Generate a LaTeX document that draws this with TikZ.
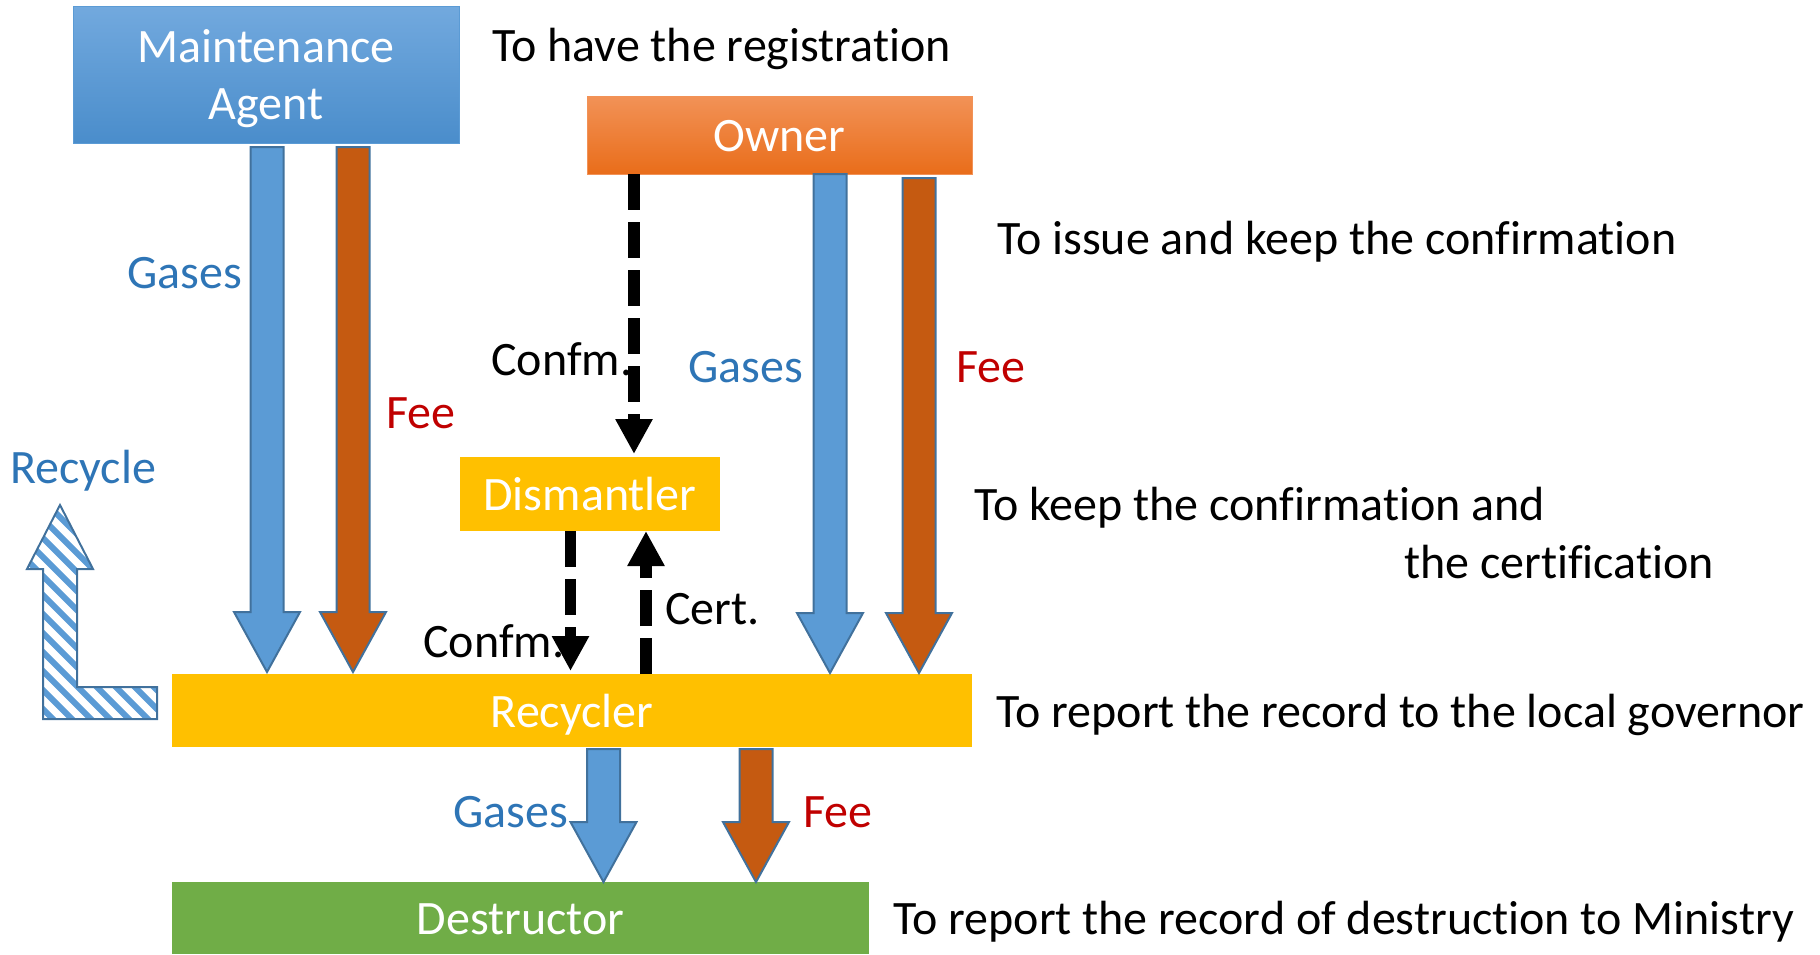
\documentclass[tikz,border=0pt]{standalone}
\usepackage{fontspec}
\setmainfont[RawFeature={-liga;-clig;-calt;-dlig}]{Carlito}
\usetikzlibrary{arrows.meta,calc}
\definecolor{gasblue}{HTML}{5B9BD5}
\definecolor{edgeblue}{HTML}{41719C}
\definecolor{feebrown}{HTML}{C55A11}
\definecolor{gastext}{HTML}{2E75B6}
\definecolor{feetext}{HTML}{C00000}
\definecolor{boxyellow}{HTML}{FFC000}
\definecolor{boxgreen}{HTML}{70AD47}
\definecolor{matop}{HTML}{72A9DE}
\definecolor{mabot}{HTML}{4A8DCB}
\definecolor{owtop}{HTML}{F29257}
\definecolor{owbot}{HTML}{E96D1A}
\tikzset{
  box/.style={inner sep=0pt, outer sep=0pt, text=white, align=center,
    text height=32pt, text depth=0pt, font=\fontsize{48}{57}\selectfont},
  boxtext/.style={inner sep=0pt, text=white, align=center, font=\fontsize{48}{57}\selectfont},
  lbl/.style={inner sep=0pt, anchor=base west, font=\fontsize{48}{57}\selectfont},
  fat/.style={draw=edgeblue, line width=2pt, line join=miter},
  dasharrow/.style={line width=11.5pt, dash pattern=on 36pt off 12pt,
    -{Triangle[width=35pt,length=35pt]}},
}
\newcommand\fatarrow[3]{%
  \draw[fat, fill=#3] let \p1=(#1), \p2=(#2) in
    (\x1-16.5pt,\y1) -- (\x1+16.5pt,\y1) -- (\x1+16.5pt,\y2+60pt)
    -- (\x1+33pt,\y2+60pt) -- (\x1,\y2) -- (\x1-33pt,\y2+60pt)
    -- (\x1-16.5pt,\y2+60pt) -- cycle;}
\begin{document}
\begin{tikzpicture}[x=1pt,y=-1pt]
\useasboundingbox (0,0) rectangle (1820,954);
% boxes
\node[box, minimum width=386pt, minimum height=137pt, top color=matop, bottom color=mabot,
  draw=gasblue, line width=1pt] (ma) at (266,74.5) {};
\node[boxtext] (matext) at ([yshift=-4pt]ma.center) {Maintenance\\Agent};
\node[box, minimum width=385pt, minimum height=78pt, top color=owtop, bottom color=owbot,
  draw=owtop, line width=1pt] (ow) at (779.5,135) {Owner};
\node[box, minimum width=260pt, minimum height=74pt, fill=boxyellow] (dis) at (590,494) {Dismantler};
\node[box, text height=33pt, minimum width=800pt, minimum height=73pt, fill=boxyellow] (rec) at (572,710.5) {Recycler};
\node[box, minimum width=697pt, minimum height=72pt, fill=boxgreen] (des) at (520.5,918) {Destructor};
% column coordinates
\coordinate (gA) at (267,0);
\coordinate (fA) at (353,0);
\coordinate (gB) at (830,0);
\coordinate (fB) at (919,0);
\coordinate (gC) at (603.5,0);
\coordinate (fC) at (756,0);
\coordinate (dA) at (634,0);
\coordinate (dB) at (570.5,0);
\coordinate (dC) at (646,0);
% fat arrows
\fatarrow{[yshift=-4pt]ma.south -| gA}{[yshift=2pt]rec.north -| gA}{gasblue}
\fatarrow{[yshift=-4pt]ma.south -| fA}{[yshift=2pt]rec.north -| fA}{feebrown}
\fatarrow{ow.south -| gB}{[yshift=1pt]rec.north -| gB}{gasblue}
\fatarrow{[yshift=-4pt]ow.south -| fB}{[yshift=1pt]rec.north -| fB}{feebrown}
\fatarrow{[yshift=-2pt]rec.south -| gC}{des.north -| gC}{gasblue}
\fatarrow{[yshift=-2pt]rec.south -| fC}{des.north -| fC}{feebrown}
% dashed arrows
\draw[dasharrow] (ow.south -| dA) -- ([yshift=3pt]dis.north -| dA);
\draw[dasharrow] (dis.south -| dB) -- ([yshift=3pt]rec.north -| dB);
\draw[dasharrow] (rec.north -| dC) -- (dis.south -| dC);
% recycle arrow
\begin{scope}
  \clip (43,719) -- (43,569) -- (27,569) -- (60,505) -- (93,569) -- (77,569)
    -- (77,687) -- (157,687) -- (157,719) -- cycle;
  \foreach \k in {-300,-281,...,200}
    \draw[gasblue, line width=6pt] (\k,480) -- (\k+260,740);
\end{scope}
\draw[fat] (43,719) -- (43,569) -- (27,569) -- (60,505) -- (93,569) -- (77,569)
    -- (77,687) -- (157,687) -- (157,719) -- cycle;
% labels
\node[lbl, text=gastext] (t1) at (127,288) {Gases};
\node[lbl, text=feetext] (t2) at (386,428) {Fee};
\node[lbl, text=gastext] (t3) at (688,382) {Gases};
\node[lbl, text=feetext] (t4) at (956,382) {Fee};
\node[lbl] (t5) at (491,375) {Confm.};
\node[lbl] (t6) at (423,657) {Confm.};
\node[lbl] (t7) at (665,624) {Cert.};
\node[lbl, text=gastext] (t8) at (453,827) {Gases};
\node[lbl, text=feetext] (t9) at (803,827) {Fee};
\node[lbl, text=gastext] (t10) at (10,483) {Recycle};
\node[lbl] (r1) at (492,61) {To have the registration};
\node[lbl] (r2) at (997,254) {To issue and keep the confirmation};
\node[lbl] (r3) at (974,520) {To keep the confirmation and};
\node[lbl] (r4) at (1404,578) {the certification};
\node[lbl] (r5) at (996,727) {To report the record to the local governor};
\node[lbl] (r6) at (893,934) {To report the record of destruction to Ministry};
\end{tikzpicture}
\end{document}
